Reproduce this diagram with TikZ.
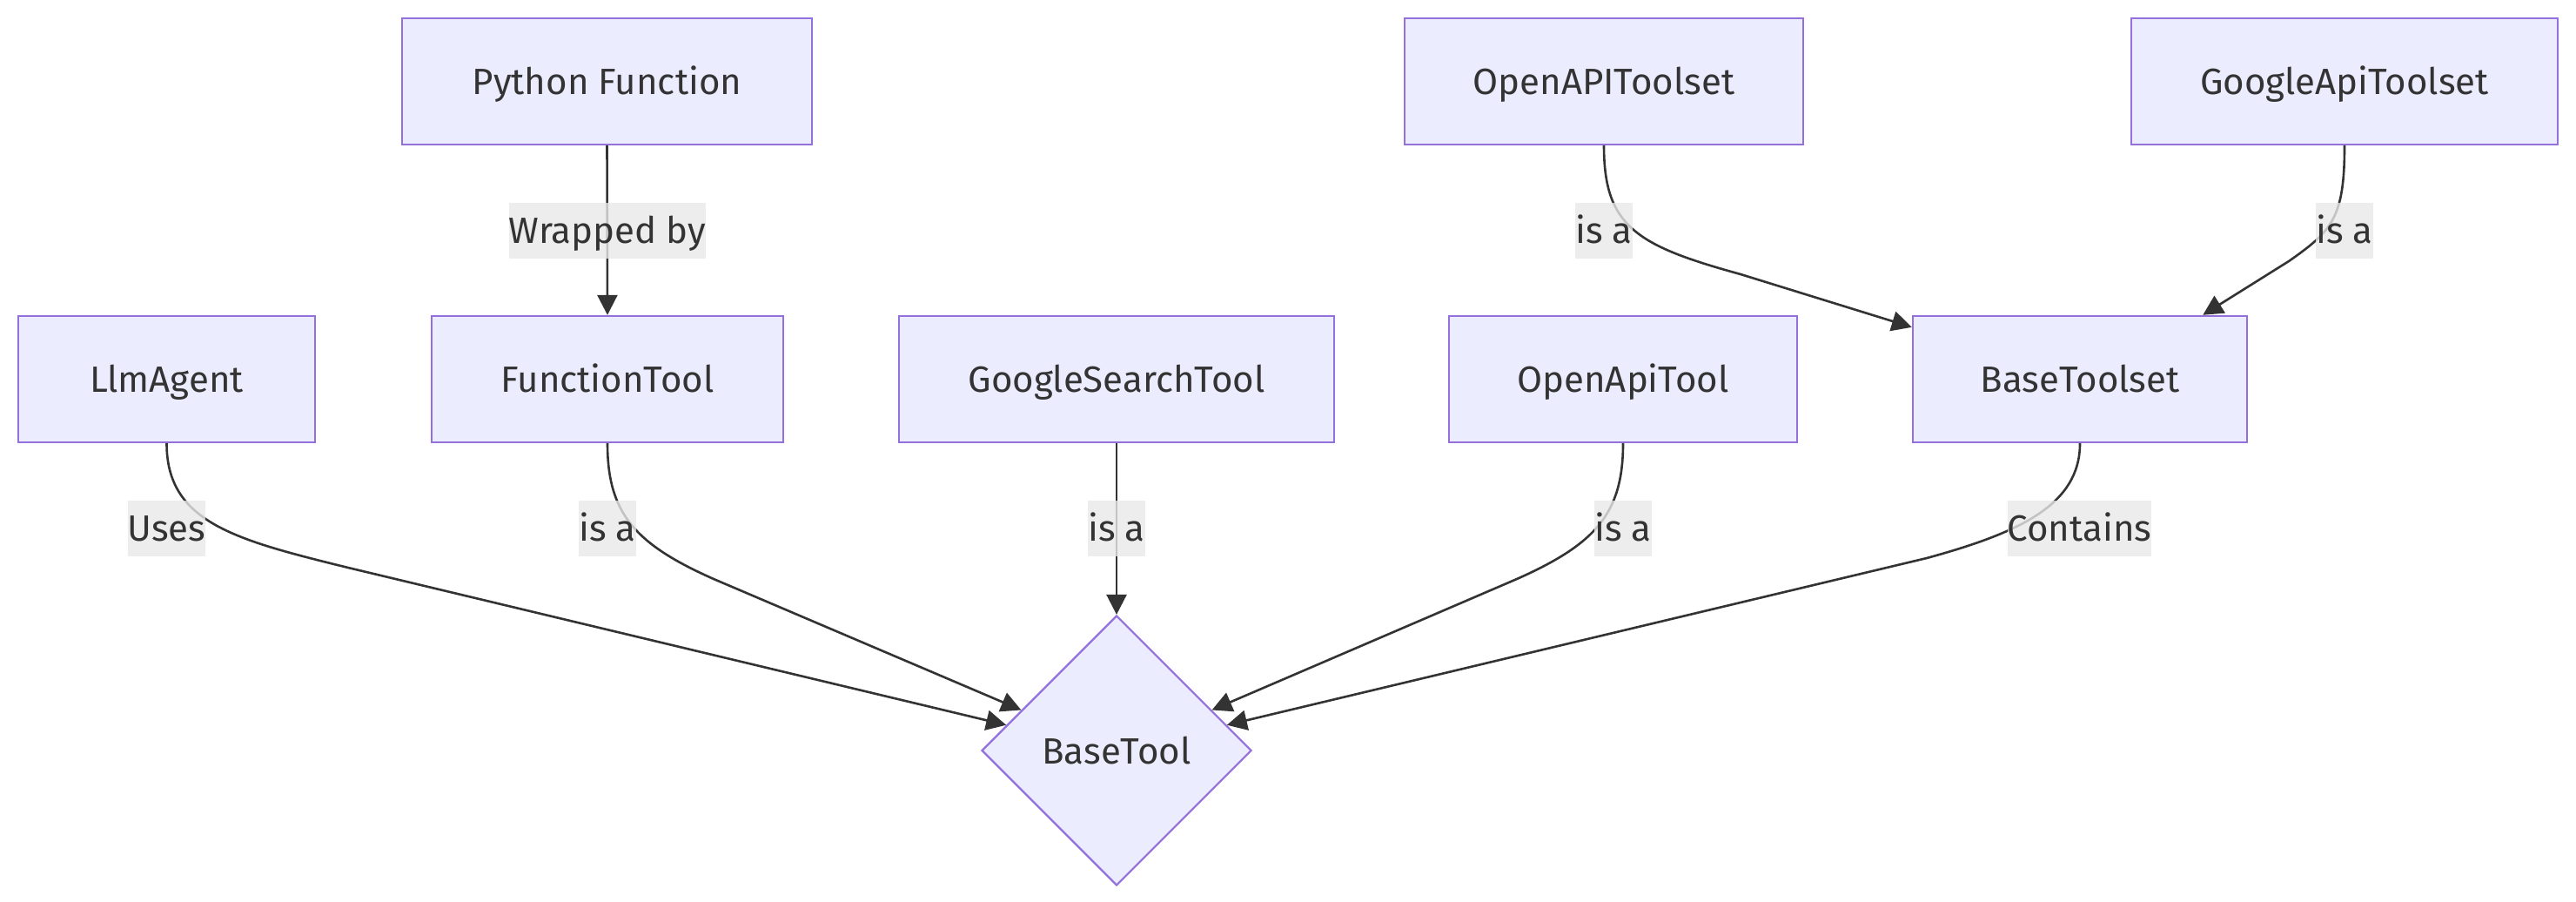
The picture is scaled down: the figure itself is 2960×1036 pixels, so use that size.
\documentclass[tikz,border=0pt]{standalone}
\usepackage{fontspec}
\setmainfont{Fira Sans}
\usetikzlibrary{arrows.meta,shapes.geometric}
\definecolor{boxfill}{HTML}{ECECFF}
\definecolor{boxline}{HTML}{9370DB}
\definecolor{edgecol}{HTML}{333333}
\definecolor{txtcol}{HTML}{333333}
\definecolor{lblfill}{HTML}{E8E8E8}
\tikzset{
  box/.style={draw=boxline, fill=boxfill, line width=1.2pt, minimum height=72.5pt,
    inner sep=0pt, text=txtcol, font=\fontsize{21}{25}\selectfont, text height=15pt, text depth=0pt},
  decision/.style={diamond, aspect=1, draw=boxline, fill=boxfill, line width=1.1pt,
    minimum size=155pt, inner sep=0pt, text=txtcol, font=\fontsize{21}{25}\selectfont, text height=15pt, text depth=0pt},
  lbl/.style={fill=lblfill, fill opacity=0.8, text opacity=1, inner sep=0pt, minimum height=32pt,
    text=txtcol, font=\fontsize{21}{25}\selectfont, text height=15pt, text depth=0pt},
  conn/.style={draw=edgecol, line width=1.3pt, -{Triangle[length=11.5pt,width=11.5pt]}},
}
\begin{document}
\begin{tikzpicture}[x=0.5pt,y=-0.5pt]
\useasboundingbox (0,0) rectangle (2960,1036);
% nodes
\node[box, minimum width=235.5pt] (pf) at (697.5,93.5) {Python Function};
\node[box, minimum width=229pt] (oats) at (1843,93.5) {OpenAPIToolset};
\node[box, minimum width=245pt] (gats) at (2694,93.5) {GoogleApiToolset};
\node[box, minimum width=170.5pt] (la) at (191.5,435.5) {LlmAgent};
\node[box, minimum width=202pt] (ft) at (698,435.5) {FunctionTool};
\node[box, minimum width=250pt] (gst) at (1283,435.5) {GoogleSearchTool};
\node[box, minimum width=200pt] (oat) at (1865,435.5) {OpenApiTool};
\node[box, minimum width=192pt] (bts) at (2390,435.5) {BaseToolset};
\node[decision] (bt) at (1283,862) {BaseTool};
% connectors
\draw[conn] (pf.south) -- (ft.north);
\draw[conn] (oats.south) .. controls (1843,260) and (1880,282) .. (2000,315) -- ([yshift=-7pt]bts.north west);
\draw[conn] (gats.south) .. controls (2694,250) and (2680,265) .. (2630,300) -- ([xshift=-26pt]bts.north east);
\draw[conn] (la.south) .. controls (191.5,600) and (270,620) .. (400,652) -- (bt.167);
\draw[conn] (ft.south) .. controls (698,590) and (730,625) .. (820,665) -- (bt.157);
\draw[conn] (gst.south) -- (bt.north);
\draw[conn] (oat.south) .. controls (1865,590) and (1833,625) .. (1743,665) -- (bt.23);
\draw[conn] (bts.south) .. controls (2390,580) and (2320,612) .. (2214,641) -- (bt.13.5);
% labels
\node[lbl] (l1) at (698,265) {Wrapped by};
\node[lbl] (l2) at (1843,265) {is a};
\node[lbl] (l3) at (2694,265) {is a};
\node[lbl] (l4) at (191.5,607) {Uses};
\node[lbl] (l5) at (698,607) {is a};
\node[lbl] (l6) at (1283,607) {is a};
\node[lbl] (l7) at (1865,607) {is a};
\node[lbl] (l8) at (2389.5,607) {Contains};
\end{tikzpicture}
\end{document}
